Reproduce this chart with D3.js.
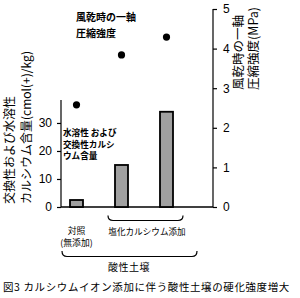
<!DOCTYPE html>
<html>
<head>
<meta charset="utf-8">
<script src="https://cdn.jsdelivr.net/npm/d3@7"></script>
<style>
  body { margin: 0; background: #fff; }
  text { font-family: "Liberation Sans", Arial, sans-serif; fill: #000; }
  .jp { font-family: "Noto Sans CJK JP", sans-serif; }
</style>
</head>
<body>
<div id="chart"></div>
<script>
// data
var categories = ["対照", "塩化カルシウム添加1", "塩化カルシウム添加2"];
var calciumContent = [2.5, 15, 34];      // cmol(+)/kg, bars, left axis
var strength = [2.58, 3.84, 4.29];        // MPa, dots, right axis
var leftTicks = [0, 10, 20, 30];
var rightTicks = [0, 1, 2, 3, 4, 5];

var width = 300, height = 298;

var svg = d3.select("#chart")
    .append("svg")
    .attr("width", width)
    .attr("height", height);

var x = d3.scaleBand()
    .domain(categories)
    .range([54, 189]);

var yLeft = d3.scaleLinear()
    .domain([0, 38.2])
    .range([207, 100]);

var yRight = d3.scaleLinear()
    .domain([0, 5])
    .range([207, 9]);

var barW = 13;
function cx(c){ return x(c) + x.bandwidth() / 2; }

// left axis
var leftAxis = svg.append("g")
    .attr("transform", "translate(61,0)")
    .call(d3.axisLeft(yLeft).tickValues(leftTicks).tickFormat(d3.format("d")).tickSize(4).tickPadding(5));
leftAxis.select(".domain").attr("d", "M0," + yLeft.range()[1] + "V" + yLeft(0));

// right axis
var rightAxis = svg.append("g")
    .attr("transform", "translate(213,0)")
    .call(d3.axisRight(yRight).tickValues(rightTicks).tickFormat(d3.format("d")).tickSize(4).tickPadding(6));
rightAxis.select(".domain").attr("d", "M0," + yRight(5) + "V" + yRight(0));

svg.selectAll(".tick text")
    .attr("font-size", 12)
    .attr("font-family", "Liberation Sans, Arial, sans-serif");
svg.selectAll(".domain, .tick line").attr("stroke", "#000").attr("stroke-width", 1.2);

// baseline
svg.append("line")
    .attr("x1", 61).attr("x2", 213)
    .attr("y1", yLeft(0)).attr("y2", yLeft(0))
    .attr("stroke", "#000").attr("stroke-width", 1.3);

// bars
svg.selectAll("rect.bar")
    .data(categories)
    .enter()
    .append("rect")
    .attr("class", "bar")
    .attr("x", function(d){ return cx(d) - barW / 2; })
    .attr("y", function(d, i){ return yLeft(calciumContent[i]); })
    .attr("width", barW)
    .attr("height", function(d, i){ return yLeft(0) - yLeft(calciumContent[i]); })
    .attr("fill", "#a0a0a0")
    .attr("stroke", "#000")
    .attr("stroke-width", 1.8);

// dots
svg.selectAll("circle.pt")
    .data(categories)
    .enter()
    .append("circle")
    .attr("class", "pt")
    .attr("cx", function(d){ return cx(d); })
    .attr("cy", function(d, i){ return yRight(strength[i]); })
    .attr("r", 3.6)
    .attr("fill", "#000");

// axis titles
var lt = svg.append("text").attr("class", "jp")
    .attr("transform", "translate(14,204) rotate(-90)")
    .attr("font-size", 12);
lt.append("tspan").attr("x", 0).attr("y", 0).text("交換性および水溶性");
lt.append("tspan").attr("x", 0).attr("y", 17).text("カルシウム含量(cmol(+)/kg)");

var rt = svg.append("text").attr("class", "jp")
    .attr("transform", "translate(243,90) rotate(-90)")
    .attr("font-size", 12.5);
rt.append("tspan").attr("x", 0).attr("y", 0).text("風乾時の一軸");
rt.append("tspan").attr("x", 0).attr("y", 15).text("圧縮強度(MPa)");

// annotations
var a1 = svg.append("text").attr("class", "jp")
    .attr("font-size", 10).attr("font-weight", "bold");
a1.append("tspan").attr("x", 76).attr("y", 21).text("風乾時の一軸");
a1.append("tspan").attr("x", 76).attr("y", 37).text("圧縮強度");

var a2 = svg.append("text").attr("class", "jp")
    .attr("font-size", 8.6).attr("font-weight", "bold");
a2.append("tspan").attr("x", 63).attr("y", 136).text("水溶性 および");
a2.append("tspan").attr("x", 63).attr("y", 147.5).text("交換性カルシ");
a2.append("tspan").attr("x", 63).attr("y", 159).text("ウム含量");

// category labels
svg.append("text").attr("class", "jp")
    .attr("x", cx(categories[0])).attr("y", 234)
    .attr("text-anchor", "middle").attr("font-size", 8.8).text("対照");
svg.append("text").attr("class", "jp")
    .attr("x", cx(categories[0])).attr("y", 245.5)
    .attr("text-anchor", "middle").attr("font-size", 8.8).text("(無添加)");
svg.append("text").attr("class", "jp")
    .attr("x", 147).attr("y", 235)
    .attr("text-anchor", "middle").attr("font-size", 8.6).text("塩化カルシウム添加");
svg.append("text").attr("class", "jp")
    .attr("x", 129).attr("y", 271)
    .attr("text-anchor", "middle").attr("font-size", 10).attr("letter-spacing", 0.5).text("酸性土壌");

// braces
function brace(x1, x2, y, h){
    var r = 5;
    return "M" + x1 + "," + (y - h) + " Q" + x1 + "," + y + " " + (x1 + r) + "," + y +
        " L" + (x2 - r) + "," + y + " Q" + x2 + "," + y + " " + x2 + "," + (y - h);
}
svg.append("path").attr("d", brace(108, 183, 220.5, 5))
    .attr("fill", "none").attr("stroke", "#000").attr("stroke-width", 1.2);
svg.append("path").attr("d", brace(62, 197, 256.5, 5.5))
    .attr("fill", "none").attr("stroke", "#000").attr("stroke-width", 1.2);

// caption
svg.append("text").attr("class", "jp")
    .attr("x", 3).attr("y", 291)
    .attr("font-size", 10.5).attr("letter-spacing", 0.6)
    .text("図3 カルシウムイオン添加に伴う酸性土壌の硬化強度増大");
</script>
</body>
</html>
